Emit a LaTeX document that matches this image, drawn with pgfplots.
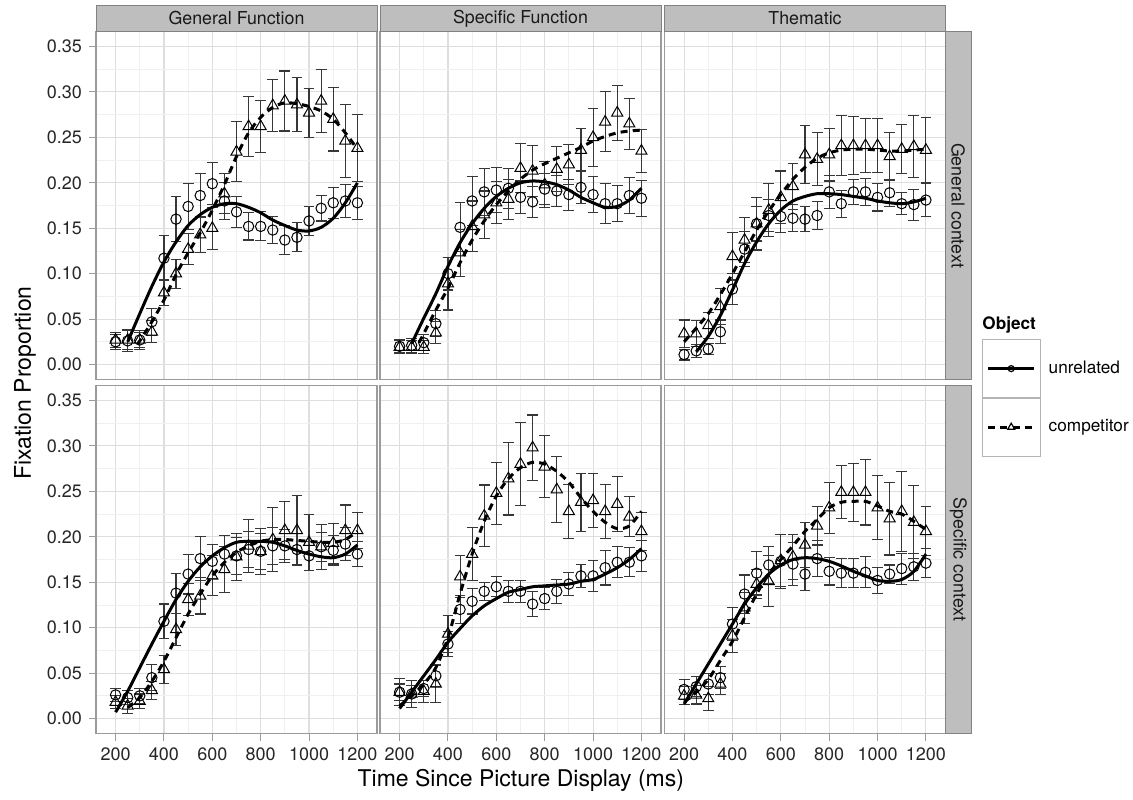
\documentclass[border=0pt]{standalone}
\usepackage{fontspec}
\setmainfont{TeX Gyre Heros}
\usepackage{pgfplots}
\usepackage{pgfplotstable}
\pgfplotsset{compat=1.18}

\definecolor{gridmaj}{RGB}{222,222,222}
\definecolor{gridmin}{RGB}{240,240,240}
\definecolor{frame}{RGB}{155,155,155}
\definecolor{stripfill}{RGB}{190,190,190}
\definecolor{stripedge}{RGB}{130,130,130}
\definecolor{ebar}{RGB}{55,55,55}
\definecolor{legbox}{RGB}{180,180,180}

\newcommand\ticksize{\fontsize{9}{10.5}\selectfont}
\newcommand\stripsize{\fontsize{8.9}{10.5}\selectfont}
\newcommand\legsize{\fontsize{8.6}{10}\selectfont}
\newcommand\labsize{\fontsize{11.5}{13}\selectfont}

% t = time (ms); u/ue = unrelated mean/error; c/ce = competitor mean/error
\pgfplotstableread{
t u ue c ce
200 0.025 0.008 0.027 0.008
250 0.026 0.012 0.027 0.010
300 0.027 0.010 0.027 0.008
350 0.047 0.015 0.036 0.012
400 0.117 0.025 0.079 0.014
450 0.160 0.025 0.100 0.016
500 0.174 0.025 0.127 0.017
550 0.186 0.024 0.143 0.020
600 0.199 0.023 0.150 0.023
650 0.180 0.020 0.188 0.022
700 0.168 0.017 0.234 0.033
750 0.152 0.015 0.262 0.033
800 0.152 0.016 0.262 0.029
850 0.148 0.015 0.285 0.029
900 0.137 0.016 0.290 0.033
950 0.140 0.016 0.286 0.030
1000 0.158 0.016 0.277 0.027
1050 0.172 0.014 0.290 0.035
1100 0.178 0.017 0.270 0.035
1150 0.180 0.018 0.246 0.040
1200 0.178 0.018 0.238 0.037
}\gfgen
\pgfplotstableread{
t u ue c ce
200 0.020 0.007 0.019 0.007
250 0.021 0.008 0.019 0.007
300 0.024 0.009 0.019 0.007
350 0.045 0.014 0.035 0.012
400 0.100 0.018 0.089 0.029
450 0.151 0.027 0.123 0.026
500 0.180 0.027 0.152 0.028
550 0.190 0.026 0.165 0.026
600 0.192 0.025 0.178 0.023
650 0.194 0.022 0.182 0.022
700 0.184 0.018 0.216 0.027
750 0.179 0.017 0.213 0.028
800 0.193 0.017 0.198 0.025
850 0.191 0.017 0.215 0.025
900 0.187 0.017 0.220 0.022
950 0.195 0.018 0.236 0.024
1000 0.187 0.020 0.250 0.032
1050 0.177 0.022 0.267 0.033
1100 0.177 0.020 0.277 0.030
1150 0.186 0.020 0.265 0.028
1200 0.183 0.020 0.235 0.024
}\sfgen
\pgfplotstableread{
t u ue c ce
200 0.011 0.006 0.034 0.015
250 0.015 0.007 0.034 0.014
300 0.017 0.006 0.043 0.014
350 0.036 0.013 0.064 0.020
400 0.083 0.017 0.119 0.026
450 0.127 0.019 0.137 0.025
500 0.155 0.019 0.155 0.029
550 0.164 0.018 0.170 0.029
600 0.163 0.018 0.184 0.029
650 0.161 0.015 0.196 0.025
700 0.160 0.014 0.231 0.032
750 0.164 0.015 0.226 0.029
800 0.190 0.018 0.231 0.029
850 0.177 0.015 0.241 0.033
900 0.190 0.014 0.241 0.032
950 0.190 0.015 0.241 0.030
1000 0.184 0.015 0.241 0.030
1050 0.189 0.015 0.229 0.026
1100 0.177 0.012 0.237 0.027
1150 0.176 0.017 0.240 0.034
1200 0.181 0.018 0.236 0.036
}\thgen
\pgfplotstableread{
t u ue c ce
200 0.026 0.007 0.018 0.007
250 0.023 0.008 0.014 0.008
300 0.025 0.008 0.019 0.008
350 0.045 0.014 0.031 0.010
400 0.107 0.019 0.054 0.015
450 0.138 0.022 0.098 0.018
500 0.159 0.022 0.131 0.018
550 0.176 0.024 0.135 0.020
600 0.173 0.019 0.157 0.022
650 0.181 0.020 0.164 0.025
700 0.179 0.020 0.178 0.026
750 0.186 0.020 0.190 0.029
800 0.184 0.020 0.184 0.025
850 0.190 0.020 0.197 0.035
900 0.190 0.018 0.207 0.032
950 0.186 0.018 0.207 0.038
1000 0.179 0.016 0.194 0.031
1050 0.189 0.016 0.189 0.025
1100 0.185 0.016 0.193 0.022
1150 0.192 0.018 0.207 0.028
1200 0.181 0.014 0.207 0.020
}\gfspe
\pgfplotstableread{
t u ue c ce
200 0.029 0.009 0.029 0.015
250 0.027 0.009 0.027 0.015
300 0.033 0.009 0.030 0.012
350 0.047 0.012 0.038 0.020
400 0.082 0.014 0.093 0.020
450 0.120 0.015 0.156 0.023
500 0.129 0.014 0.181 0.029
550 0.140 0.010 0.223 0.034
600 0.145 0.011 0.248 0.034
650 0.140 0.012 0.264 0.040
700 0.140 0.012 0.280 0.046
750 0.126 0.014 0.298 0.036
800 0.132 0.012 0.277 0.034
850 0.140 0.013 0.252 0.036
900 0.148 0.013 0.228 0.030
950 0.157 0.013 0.238 0.032
1000 0.157 0.017 0.240 0.030
1050 0.166 0.019 0.228 0.030
1100 0.172 0.017 0.236 0.030
1150 0.172 0.016 0.222 0.022
1200 0.179 0.017 0.206 0.021
}\sfspe
\pgfplotstableread{
t u ue c ce
200 0.032 0.011 0.025 0.010
250 0.035 0.011 0.026 0.010
300 0.038 0.012 0.022 0.013
350 0.045 0.012 0.038 0.012
400 0.104 0.018 0.091 0.018
450 0.137 0.021 0.122 0.017
500 0.160 0.024 0.148 0.016
550 0.169 0.020 0.151 0.028
600 0.173 0.030 0.174 0.029
650 0.170 0.024 0.178 0.025
700 0.159 0.018 0.191 0.025
750 0.176 0.020 0.212 0.021
800 0.162 0.015 0.232 0.028
850 0.160 0.016 0.249 0.029
900 0.160 0.016 0.249 0.032
950 0.161 0.017 0.249 0.036
1000 0.152 0.014 0.232 0.035
1050 0.159 0.010 0.220 0.040
1100 0.165 0.017 0.228 0.044
1150 0.167 0.015 0.216 0.040
1200 0.171 0.016 0.206 0.027
}\thspe

\pgfplotsset{
  panel/.style={
    scale only axis, width=140.5pt, height=174pt, anchor=north west,
    xmin=119, xmax=1281, ymin=-0.0165, ymax=0.3665,
    xtick={200,400,600,800,1000,1200},
    ytick={0,0.05,0.1,0.15,0.2,0.25,0.3,0.35},
    minor xtick={300,500,700,900,1100},
    minor ytick={0.025,0.075,0.125,0.175,0.225,0.275,0.325},
    grid=both,
    major grid style={gridmaj, line width=0.55pt},
    minor grid style={gridmin, line width=0.4pt},
    axis line style={frame, line width=0.6pt},
    tick align=outside, xtick pos=left, ytick pos=left,
    major tick length=3.5pt, minor tick length=0pt,
    tick style={frame, line width=0.5pt},
    xticklabel style={font=\ticksize, text=black!85},
    yticklabel style={font=\ticksize, text=black!85},
    /pgf/number format/assume math mode=true,
    /pgf/number format/1000 sep={},
    y tick label style={/pgf/number format/.cd, fixed, fixed zerofill, precision=2},
  },
  nox/.style={xticklabels={}, xtick style={draw=none}},
  noy/.style={yticklabels={}, ytick style={draw=none}},
  ebars/.style={
    error bars/y dir=both, error bars/y explicit,
    error bars/error bar style={ebar, line width=0.55pt},
    error bars/error mark options={ebar, line width=0.55pt, mark size=2.7pt, rotate=90}},
  unrel/.style={only marks, mark=o, mark size=2.6pt, black,
    mark options={line width=0.5pt, solid}, ebars},
  comp/.style={only marks, mark=triangle, mark size=3.2pt, black,
    mark options={line width=0.5pt, solid}, ebars},
  fitu/.style={no marks, black, line width=1.5pt, smooth},
  fitc/.style={no marks, black, line width=1.5pt, smooth, dash pattern=on 3.5pt off 2.6pt},
}

\begin{document}
\begin{tikzpicture}
\useasboundingbox (0,0) rectangle (566.5pt,-399.5pt);

% ---------- top row: General context ----------
\begin{axis}[panel, nox, at={(48pt,-15.75pt)}]
\addplot[unrel] table[x=t, y=u, y error=ue] {\gfgen};
\addplot[comp] table[x=t, y=c, y error=ce] {\gfgen};
\addplot[fitu] coordinates {(250,0.025) (300,0.056) (350,0.086) (400,0.113) (450,0.135) (500,0.153) (550,0.165) (600,0.173) (650,0.177) (700,0.177) (750,0.173) (800,0.167) (850,0.159) (900,0.153) (950,0.148) (1000,0.147) (1050,0.151) (1100,0.161) (1150,0.178) (1200,0.200)};
\addplot[fitc] coordinates {(290,0.022) (350,0.047) (400,0.071) (450,0.099) (500,0.123) (550,0.145) (600,0.170) (650,0.198) (700,0.229) (750,0.255) (800,0.272) (850,0.283) (900,0.288) (950,0.287) (1000,0.284) (1050,0.279) (1100,0.270) (1150,0.255) (1200,0.237)};
\end{axis}

\begin{axis}[panel, nox, noy, at={(190pt,-15.75pt)}]
\addplot[unrel] table[x=t, y=u, y error=ue] {\sfgen};
\addplot[comp] table[x=t, y=c, y error=ce] {\sfgen};
\addplot[fitu] coordinates {(250,0.023) (300,0.051) (350,0.078) (400,0.108) (450,0.134) (500,0.155) (550,0.172) (600,0.185) (650,0.194) (700,0.200) (750,0.202) (800,0.201) (850,0.198) (900,0.192) (950,0.184) (1000,0.178) (1050,0.173) (1100,0.174) (1150,0.181) (1200,0.194)};
\addplot[fitc] coordinates {(280,0.024) (300,0.034) (350,0.060) (400,0.084) (450,0.112) (500,0.137) (550,0.158) (600,0.176) (650,0.191) (700,0.204) (750,0.214) (800,0.221) (850,0.227) (900,0.233) (950,0.239) (1000,0.246) (1050,0.251) (1100,0.255) (1150,0.257) (1200,0.258)};
\end{axis}

\begin{axis}[panel, nox, noy, at={(332.25pt,-15.75pt)},
  legend image code/.code={
    \draw[solid, legbox, line width=0.5pt, fill=white] (0pt,-14.4pt) rectangle (29pt,14.4pt);
    \draw[mark repeat=2, mark phase=2, #1] plot coordinates {(3pt,0pt) (14.5pt,0pt) (26pt,0pt)};
  },
  legend style={at={(1.1288,0.1155)}, anchor=north west, draw=none, fill=none,
    inner sep=0pt, outer sep=0pt, row sep=0pt, column sep=4pt,
    nodes={inner sep=0pt, outer sep=0pt},
    font=\legsize, legend cell align=left}]
\addlegendimage{black, line width=1.5pt, mark=o, mark size=1.5pt, mark options={solid, line width=0.6pt}}
\addlegendentry{unrelated}
\addlegendimage{black, line width=1.5pt, dash pattern=on 3.5pt off 2.6pt, mark=triangle, mark size=2pt, mark options={solid, line width=0.6pt}}
\addlegendentry{competitor}
\addplot[forget plot, unrel] table[x=t, y=u, y error=ue] {\thgen};
\addplot[forget plot, comp] table[x=t, y=c, y error=ce] {\thgen};
\addplot[forget plot, fitu] coordinates {(250,0.014) (300,0.031) (350,0.054) (400,0.082) (450,0.111) (500,0.135) (550,0.155) (600,0.170) (650,0.180) (700,0.185) (750,0.188) (800,0.188) (850,0.187) (900,0.185) (950,0.183) (1000,0.180) (1050,0.178) (1100,0.177) (1150,0.179) (1200,0.183)};
\addplot[forget plot, fitc] coordinates {(200,0.025) (250,0.040) (300,0.056) (350,0.077) (400,0.100) (450,0.124) (500,0.148) (550,0.169) (600,0.187) (650,0.204) (700,0.217) (750,0.227) (800,0.233) (850,0.236) (900,0.237) (950,0.237) (1000,0.236) (1050,0.235) (1100,0.235) (1150,0.236) (1200,0.237)};
\end{axis}

% ---------- bottom row: Specific context ----------
\begin{axis}[panel, at={(48pt,-192.75pt)}]
\addplot[unrel] table[x=t, y=u, y error=ue] {\gfspe};
\addplot[comp] table[x=t, y=c, y error=ce] {\gfspe};
\addplot[fitu] coordinates {(200,0.007) (250,0.030) (300,0.056) (350,0.082) (400,0.107) (450,0.131) (500,0.151) (550,0.167) (600,0.179) (650,0.188) (700,0.194) (750,0.195) (800,0.195) (850,0.194) (900,0.190) (950,0.185) (1000,0.181) (1050,0.178) (1100,0.177) (1150,0.181) (1200,0.191)};
\addplot[fitc] coordinates {(250,0.012) (300,0.023) (350,0.041) (400,0.063) (450,0.089) (500,0.115) (550,0.137) (600,0.157) (650,0.172) (700,0.183) (750,0.190) (800,0.195) (850,0.197) (900,0.197) (950,0.196) (1000,0.195) (1050,0.194) (1100,0.194) (1150,0.197) (1200,0.206)};
\end{axis}

\begin{axis}[panel, noy, at={(190pt,-192.75pt)}]
\addplot[unrel] table[x=t, y=u, y error=ue] {\sfspe};
\addplot[comp] table[x=t, y=c, y error=ce] {\sfspe};
\addplot[fitu] coordinates {(200,0.011) (250,0.029) (300,0.047) (350,0.065) (400,0.084) (450,0.099) (500,0.113) (550,0.124) (600,0.132) (650,0.139) (700,0.142) (750,0.145) (800,0.146) (850,0.147) (900,0.148) (950,0.151) (1000,0.153) (1050,0.159) (1100,0.166) (1150,0.175) (1200,0.187)};
\addplot[fitc] coordinates {(200,0.014) (250,0.025) (300,0.038) (350,0.056) (400,0.089) (450,0.137) (500,0.181) (550,0.217) (600,0.245) (650,0.264) (700,0.276) (750,0.282) (800,0.280) (850,0.272) (900,0.260) (950,0.243) (1000,0.228) (1050,0.216) (1100,0.209) (1150,0.212) (1200,0.228)};
\end{axis}

\begin{axis}[panel, noy, at={(332.25pt,-192.75pt)}]
\addplot[unrel] table[x=t, y=u, y error=ue] {\thspe};
\addplot[comp] table[x=t, y=c, y error=ce] {\thspe};
\addplot[fitu] coordinates {(200,0.016) (250,0.038) (300,0.060) (350,0.082) (400,0.104) (450,0.126) (500,0.144) (550,0.159) (600,0.169) (650,0.175) (700,0.177) (750,0.176) (800,0.173) (850,0.168) (900,0.162) (950,0.157) (1000,0.152) (1050,0.151) (1100,0.153) (1150,0.162) (1200,0.181)};
\addplot[fitc] coordinates {(200,0.018) (250,0.029) (300,0.043) (350,0.064) (400,0.085) (450,0.111) (500,0.137) (550,0.159) (600,0.175) (650,0.190) (700,0.206) (750,0.219) (800,0.232) (850,0.238) (900,0.239) (950,0.239) (1000,0.234) (1050,0.228) (1100,0.225) (1150,0.217) (1200,0.208)};
\end{axis}

% ---------- facet strips ----------
\foreach \xl/\lab in {48/General Function, 190/Specific Function, 332.25/Thematic}{
  \draw[stripedge, fill=stripfill, line width=0.5pt] (\xl pt,-2.5pt) rectangle ++(140.5pt,-13.25pt);
  \node[font=\stripsize, text=black!90] at (\xl pt+70.25pt,-9.2pt) {\lab};
}
\draw[stripedge, fill=stripfill, line width=0.5pt] (472.75pt,-15.75pt) rectangle (485.5pt,-189.75pt);
\node[font=\stripsize, text=black!90, rotate=-90] at (479.1pt,-102.75pt) {General context};
\draw[stripedge, fill=stripfill, line width=0.5pt] (472.75pt,-192.75pt) rectangle (485.5pt,-366.75pt);
\node[font=\stripsize, text=black!90, rotate=-90] at (479.1pt,-279.75pt) {Specific context};

% ---------- axis titles and legend title ----------
\node[font=\labsize] at (260.4pt,-390pt) {Time Since Picture Display (ms)};
\node[font=\labsize, rotate=90] at (12.5pt,-191.5pt) {Fixation Proportion};
\node[font=\legsize\bfseries, anchor=west, inner sep=0pt] at (491pt,-162.5pt) {Object};
\end{tikzpicture}
\end{document}
